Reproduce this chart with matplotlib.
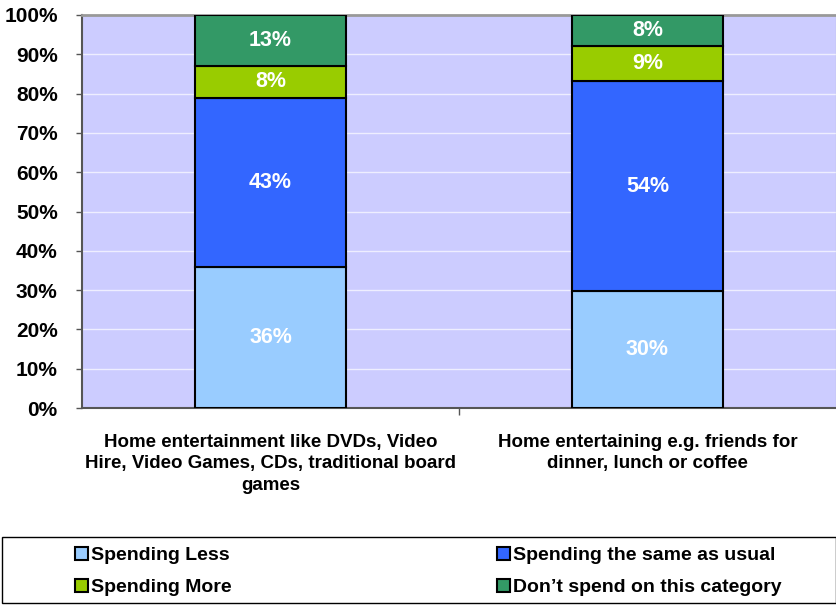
import matplotlib
matplotlib.use("Agg")
import matplotlib.pyplot as plt
import numpy as np
from matplotlib.patches import Rectangle
from matplotlib.ticker import PercentFormatter

plt.rcParams['font.family'] = ['Liberation Sans', 'DejaVu Sans']
plt.rcParams['font.weight'] = 'bold'

categories = ["Home entertainment like DVDs, Video\nHire, Video Games, CDs, traditional board\ngames",
              "Home entertaining e.g. friends for\ndinner, lunch or coffee"]
series = ["Spending Less", "Spending the same as usual", "Spending More", "Don\u2019t spend on this category"]
less = [36, 30]
same = [43, 54]
more = [8, 9]
dont = [13, 8]
colors = ["#99CCFF", "#3366FF", "#99CC00", "#339966"]

values = np.array([less, same, more, dont], dtype=float)
shares = values / values.sum(axis=0) * 100

fig = plt.figure(figsize=(8.37, 6.05), dpi=100)
ax = fig.add_axes([82/837, 1 - 408/605, 754/837, 393/605])
ax.set_facecolor("#CCCCFF")

x = np.arange(len(categories))
bottom = np.zeros(len(categories))
handles = []
for i in range(len(series)):
    b = ax.bar(x, shares[i], 0.4, bottom=bottom, color=colors[i],
               edgecolor="black", linewidth=1.5, label=series[i], zorder=3)
    handles.append(b)
    for j in range(len(categories)):
        ax.text(x[j], bottom[j] + shares[i][j] / 2, "%d%%" % values[i][j],
                ha="center", va="center", color="white", fontsize=15.5,
                fontweight="bold", zorder=4)
    bottom += shares[i]

ax.set_xlim(-0.5, 1.5)
ax.set_ylim(0, 100)
ax.set_yticks(np.arange(0, 101, 10))
ax.yaxis.set_major_formatter(PercentFormatter(decimals=0))
ax.set_xticks([0.5])
ax.set_xticklabels([""])
ax.tick_params(axis="y", labelsize=15, length=4.5, width=1, color="#555555", pad=13)
ax.tick_params(axis="x", length=5, width=1, color="#555555")
ax.grid(axis="y", color="#EEEEFF", linewidth=1, zorder=0)
ax.spines["top"].set_color("#999999")
ax.spines["top"].set_linewidth(2)
ax.spines["right"].set_color("#999999")
ax.spines["left"].set_color("#555555")
ax.spines["bottom"].set_color("#555555")
ax.spines["left"].set_linewidth(1.5)
ax.spines["bottom"].set_linewidth(1.5)

for j in range(len(categories)):
    ax.text(x[j], -6.5, categories[j], ha="center", va="top", fontsize=13.5,
            fontweight="bold", transform=ax.transData, linespacing=1.35)

# legend box
fig.patches.append(Rectangle((2/837, 2/605), 834/837, 66/605, transform=fig.transFigure,
                             fill=False, edgecolor="black", linewidth=1))
leg_kw = dict(frameon=False, fontsize=14, handlelength=0.65, handleheight=0.65,
              handletextpad=0.15, labelspacing=0.75, borderpad=0, borderaxespad=0)
leg1 = fig.legend([handles[0], handles[2]], [series[0], series[2]],
                  loc="upper left", bbox_to_anchor=(75/837, 1 - 547/605), **leg_kw)
leg2 = fig.legend([handles[1], handles[3]], [series[1], series[3]],
                  loc="upper left", bbox_to_anchor=(497/837, 1 - 547/605), **leg_kw)
for leg in (leg1, leg2):
    for h in leg.legend_handles:
        h.set_linewidth(1.5)

fig.savefig("out.png", dpi=100)
